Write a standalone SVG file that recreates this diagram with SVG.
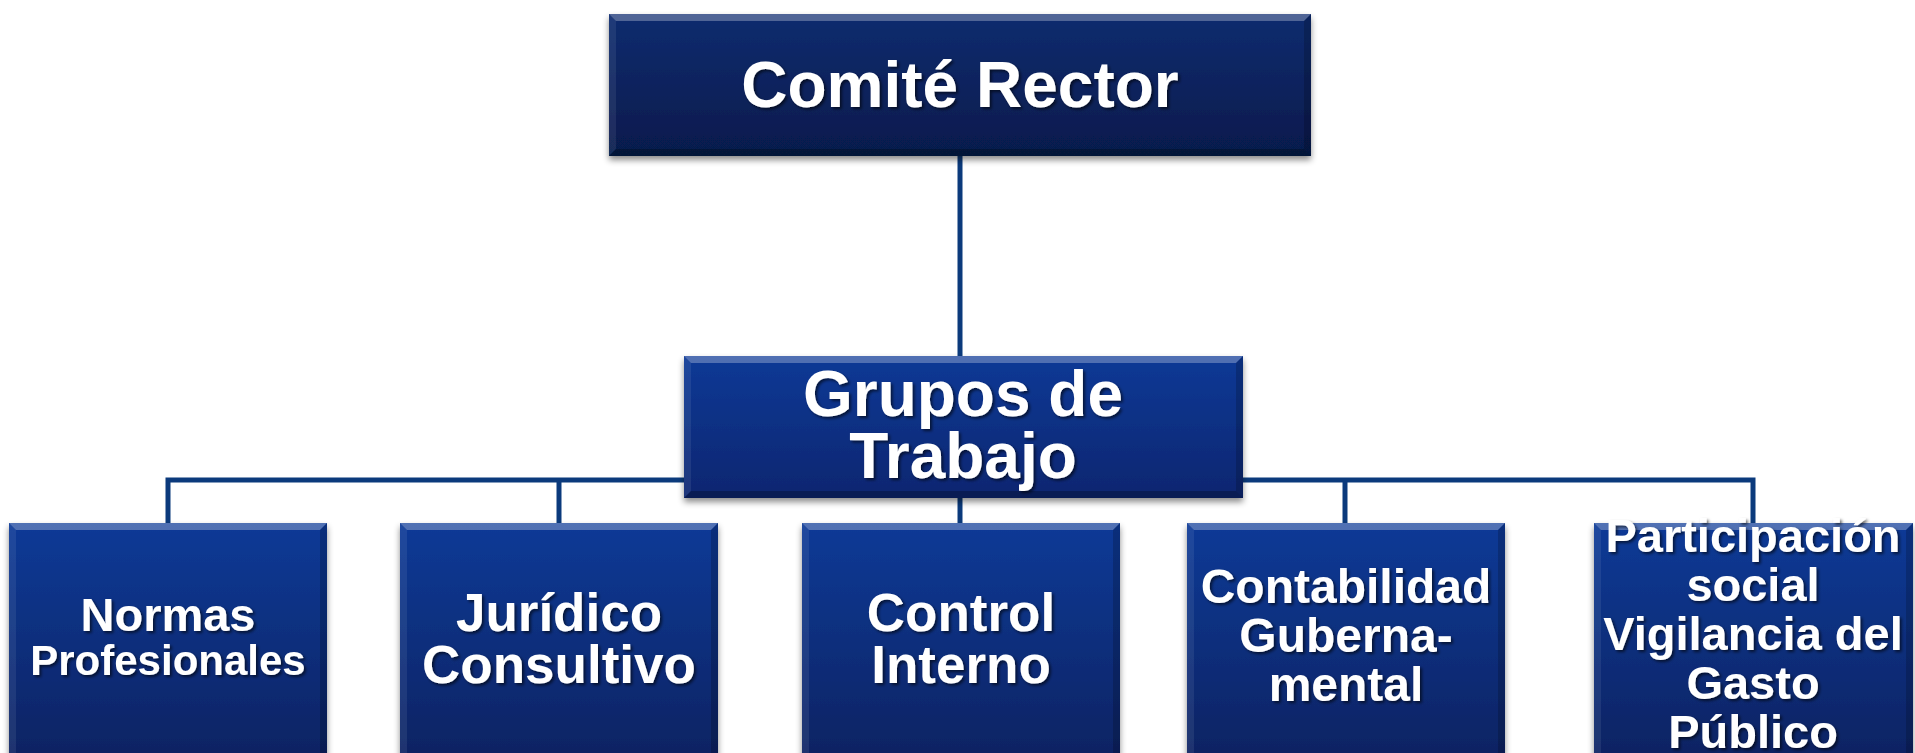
<svg xmlns="http://www.w3.org/2000/svg" width="1915" height="753" viewBox="0 0 1915 753">
<style>
.conn{stroke:#0b3a7c;stroke-width:5;fill:none}
.bt{fill:#ffffff;fill-opacity:0.28}
.bl{fill:#ffffff;fill-opacity:0.08}
.br{fill:#000000;fill-opacity:0.18}
.bb{fill:#000000;fill-opacity:0.25}
.lbl{font-family:"Liberation Sans",Arial,sans-serif;font-weight:bold;fill:#ffffff;text-anchor:middle;filter:url(#ts)}
</style>
<defs>
<linearGradient id="gTop" x1="0" y1="0" x2="0" y2="1"><stop offset="0" stop-color="#0d2c6f"/><stop offset="1" stop-color="#061a4c"/></linearGradient>
<linearGradient id="gMid" x1="0" y1="0" x2="0" y2="1"><stop offset="0" stop-color="#0c3996"/><stop offset="1" stop-color="#072670"/></linearGradient>
<linearGradient id="gBot" x1="0" y1="0" x2="0" y2="1"><stop offset="0" stop-color="#0c3a97"/><stop offset="1" stop-color="#082260"/></linearGradient>
<filter id="sh" x="-5%" y="-10%" width="110%" height="130%"><feDropShadow dx="0" dy="4" stdDeviation="3" flood-color="#000" flood-opacity="0.45"/></filter>
<filter id="ts" x="-5%" y="-20%" width="110%" height="140%"><feDropShadow dx="2" dy="2" stdDeviation="1.5" flood-color="#000" flood-opacity="0.6"/></filter>
</defs>
<rect width="1915" height="753" fill="#ffffff"/>
<g id="connectors">
<line class="conn" x1="960" y1="156" x2="960" y2="357"/>
<polyline class="conn" points="168,523 168,480 1753,480 1753,523"/>
<line class="conn" x1="559" y1="480" x2="559" y2="523"/>
<line class="conn" x1="960" y1="480" x2="960" y2="523"/>
<line class="conn" x1="1345" y1="480" x2="1345" y2="523"/>
</g>
<g id="comite-rector">
<rect x="609" y="14" width="702" height="142" fill="url(#gTop)" filter="url(#sh)"/>
<polygon class="bt" points="609,14 1311,14 1304,21 616,21"/>
<polygon class="bl" points="609,14 616,21 616,149 609,156"/>
<polygon class="br" points="1311,14 1311,156 1304,149 1304,21"/>
<polygon class="bb" points="609,156 616,149 1304,149 1311,156"/>
<text class="lbl" x="960" y="107" font-size="64">Comité Rector</text>
</g>
<g id="grupos-de-trabajo">
<rect x="684" y="356" width="559" height="142" fill="url(#gMid)" filter="url(#sh)"/>
<polygon class="bt" points="684,356 1243,356 1236,363 691,363"/>
<polygon class="bl" points="684,356 691,363 691,491 684,498"/>
<polygon class="br" points="1243,356 1243,498 1236,491 1236,363"/>
<polygon class="bb" points="684,498 691,491 1236,491 1243,498"/>
<text class="lbl" x="963" y="416" font-size="64">Grupos de</text>
<text class="lbl" x="963" y="478" font-size="64">Trabajo</text>
</g>
<g id="normas-profesionales">
<rect x="9" y="523" width="318" height="245" fill="url(#gBot)" filter="url(#sh)"/>
<polygon class="bt" points="9,523 327,523 320,530 16,530"/>
<polygon class="bl" points="9,523 16,530 16,768 9,768"/>
<polygon class="br" points="327,523 327,768 320,768 320,530"/>
<text class="lbl" x="168" y="631" font-size="47">Normas</text>
<text class="lbl" x="168" y="675" font-size="42">Profesionales</text>
</g>
<g id="juridico-consultivo">
<rect x="400" y="523" width="318" height="245" fill="url(#gBot)" filter="url(#sh)"/>
<polygon class="bt" points="400,523 718,523 711,530 407,530"/>
<polygon class="bl" points="400,523 407,530 407,768 400,768"/>
<polygon class="br" points="718,523 718,768 711,768 711,530"/>
<text class="lbl" x="559" y="631" font-size="53">Jurídico</text>
<text class="lbl" x="559" y="683" font-size="53">Consultivo</text>
</g>
<g id="control-interno">
<rect x="802" y="523" width="318" height="245" fill="url(#gBot)" filter="url(#sh)"/>
<polygon class="bt" points="802,523 1120,523 1113,530 809,530"/>
<polygon class="bl" points="802,523 809,530 809,768 802,768"/>
<polygon class="br" points="1120,523 1120,768 1113,768 1113,530"/>
<text class="lbl" x="961" y="631" font-size="53">Control</text>
<text class="lbl" x="961" y="683" font-size="53">Interno</text>
</g>
<g id="contabilidad-gubernamental">
<rect x="1187" y="523" width="318" height="245" fill="url(#gBot)" filter="url(#sh)"/>
<polygon class="bt" points="1187,523 1505,523 1498,530 1194,530"/>
<polygon class="bl" points="1187,523 1194,530 1194,768 1187,768"/>
<polygon class="br" points="1505,523 1505,768 1498,768 1498,530"/>
<text class="lbl" x="1346" y="603" font-size="48">Contabilidad</text>
<text class="lbl" x="1346" y="652" font-size="48">Guberna-</text>
<text class="lbl" x="1346" y="701" font-size="48">mental</text>
</g>
<g id="participacion-social">
<rect x="1594" y="523" width="319" height="245" fill="url(#gBot)" filter="url(#sh)"/>
<polygon class="bt" points="1594,523 1913,523 1906,530 1601,530"/>
<polygon class="bl" points="1594,523 1601,530 1601,768 1594,768"/>
<polygon class="br" points="1913,523 1913,768 1906,768 1906,530"/>
<text class="lbl" x="1753" y="552" font-size="47">Participación</text>
<text class="lbl" x="1753" y="601" font-size="47">social</text>
<text class="lbl" x="1753" y="650" font-size="47">Vigilancia del</text>
<text class="lbl" x="1753" y="699" font-size="47">Gasto</text>
<text class="lbl" x="1753" y="748" font-size="47">Público</text>
</g>
</svg>
